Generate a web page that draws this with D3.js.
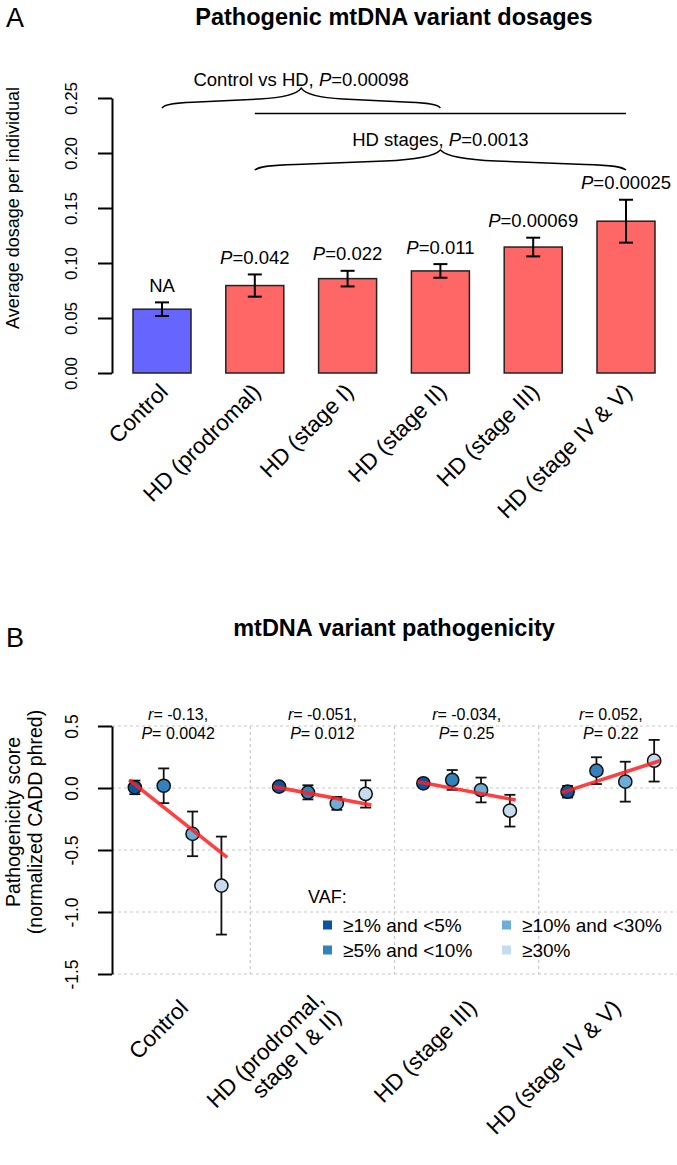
<!DOCTYPE html>
<html><head><meta charset="utf-8">
<script src="https://cdn.jsdelivr.net/npm/d3@7"></script>
<style>
body{margin:0;background:#fff;}
svg{display:block;font-family:"Liberation Sans",Arial,Helvetica,sans-serif;}
</style></head><body>
<svg id="chart" width="677" height="1165"></svg>
<script>
// ---------- Panel A data ----------
const barCategories = ["Control","HD (prodromal)","HD (stage I)","HD (stage II)","HD (stage III)","HD (stage IV & V)"];
const barValues = [0.058, 0.0795, 0.0858, 0.0928, 0.1145, 0.138];
const barErrors = [0.0062, 0.0101, 0.0071, 0.0062, 0.0085, 0.0195];
const barPLabels = ["NA","0.042","0.022","0.011","0.00069","0.00025"];
const barColors = ["#6666FF","#FF6666","#FF6666","#FF6666","#FF6666","#FF6666"];
const yTicksA = [0, 0.05, 0.10, 0.15, 0.20, 0.25];
const bracketTexts = ["Control vs HD, ", "0.00098", "HD stages, ", "0.0013"];
// bracket levels in data units: [end, peak, text baseline]
const bracket1Levels = [0.241, 0.259, 0.261];
const bracketLineLevel = 0.236;
const bracket2Levels = [0.1845, 0.2027, 0.2065];

// ---------- Panel B data ----------
const groupLabels = [["Control"],["HD (prodromal,","stage I & II)"],["HD (stage III)"],["HD (stage IV & V)"]];
const vafLevels = ["≥1% and <5%","≥5% and <10%","≥10% and <30%","≥30%"];
const vafColors = ["#0B55A0","#3182BD","#6BAED6","#C6DBEF"];
const scoreControl = [0.005, 0.018, -0.370, -0.787];
const scoreProdromal = [0.011, -0.035, -0.124, -0.048];
const scoreStageIII = [0.038, 0.065, -0.016, -0.183];
const scoreStageIV = [-0.030, 0.140, 0.051, 0.220];
const errControl = [0.055, 0.140, 0.180, 0.395];
const errProdromal = [0.020, 0.057, 0.052, 0.110];
const errStageIII = [0.025, 0.080, 0.100, 0.128];
const errStageIV = [0.047, 0.108, 0.161, 0.168];
// fitted trend line values at the two ends
const trendStart = [0.065, 0.011, 0.051, -0.037];
const trendEnd = [-0.559, -0.137, -0.097, 0.220];
const rLabels = ["-0.13","-0.051","-0.034","0.052"];
const pLabelsB = ["0.0042","0.012","0.25","0.22"];
const yTicksB = [0.5, 0.0, -0.5, -1.0, -1.5];

const scores = [scoreControl, scoreProdromal, scoreStageIII, scoreStageIV];
const errs = [errControl, errProdromal, errStageIII, errStageIV];

const svg = d3.select("#chart");

// ================= PANEL A =================
const yA = d3.scaleLinear().domain([0, 0.25]).range([373, 98]);
const xA = d3.scaleBand().domain(barCategories).range([133, 655]).paddingInner(0.375).paddingOuter(0);
const bw = xA.bandwidth();
const cx = c => xA(c) + bw / 2;

svg.append("text").attr("x", 6).attr("y", 27).attr("font-size", 27).text("A");
svg.append("text").attr("x", 394).attr("y", 25).attr("text-anchor", "middle")
  .attr("font-size", 23.5).attr("font-weight", "bold").text("Pathogenic mtDNA variant dosages");

const axA = svg.append("g").attr("transform", "translate(112,0)")
  .call(d3.axisLeft(yA).tickValues(yTicksA).tickSize(14).tickSizeOuter(0).tickFormat(d3.format(".2f")));
axA.select(".domain").attr("stroke", "#000").attr("stroke-width", 2);
axA.selectAll(".tick line").attr("stroke", "#000").attr("stroke-width", 2);
axA.selectAll(".tick text").attr("x", null).attr("dy", null)
  .attr("transform", "translate(-41,0) rotate(-90)").attr("text-anchor", "middle")
  .attr("dominant-baseline", "central").attr("font-size", 17).attr("fill", "#000")
  .attr("font-family", '"Liberation Sans",Arial,sans-serif');

svg.append("text").attr("transform", "translate(13,208) rotate(-90)").attr("text-anchor", "middle")
  .attr("dominant-baseline", "central").attr("font-size", 18).text("Average dosage per individual");

const barsA = svg.append("g");
barCategories.forEach((c, i) => {
  barsA.append("rect").attr("x", xA(c)).attr("y", yA(barValues[i])).attr("width", bw)
    .attr("height", yA(0) - yA(barValues[i])).attr("fill", barColors[i])
    .attr("stroke", "#222").attr("stroke-width", 1.5);
  const lo = yA(barValues[i] - barErrors[i]), hi = yA(barValues[i] + barErrors[i]);
  const g = barsA.append("g").attr("stroke", "#000").attr("stroke-width", 2);
  g.append("line").attr("x1", cx(c)).attr("x2", cx(c)).attr("y1", lo).attr("y2", hi);
  g.append("line").attr("x1", cx(c) - 7).attr("x2", cx(c) + 7).attr("y1", lo).attr("y2", lo);
  g.append("line").attr("x1", cx(c) - 7).attr("x2", cx(c) + 7).attr("y1", hi).attr("y2", hi);
  const t = barsA.append("text").attr("x", cx(c)).attr("y", hi - 10.5).attr("text-anchor", "middle").attr("font-size", 18.5);
  if (barPLabels[i] === "NA") t.text("NA");
  else { t.append("tspan").attr("font-style", "italic").text("P"); t.append("tspan").text("=" + barPLabels[i]); }
  svg.append("text").attr("transform", `translate(${cx(c) + 2},${388}) rotate(-45)`)
    .attr("text-anchor", "end").attr("dominant-baseline", "central").attr("font-size", 22.5).text(c);
});

function bracePath(x1, x2, yE, yP) {
  const xc = (x1 + x2) / 2, h = xc - x1, d = yE - yP;
  return `M${x1},${yE}` +
    `C${x1 + 0.02 * h},${yE - 0.16 * d} ${x1 + 0.07 * h},${yE - 0.24 * d} ${x1 + 0.22 * h},${yE - 0.28 * d}` +
    `L${xc - 0.3 * h},${yE - 0.45 * d}` +
    `C${xc - 0.12 * h},${yE - 0.52 * d} ${xc - 0.03 * h},${yE - 0.7 * d} ${xc},${yP}` +
    `C${xc + 0.03 * h},${yE - 0.7 * d} ${xc + 0.12 * h},${yE - 0.52 * d} ${xc + 0.3 * h},${yE - 0.45 * d}` +
    `L${x2 - 0.22 * h},${yE - 0.28 * d}` +
    `C${x2 - 0.07 * h},${yE - 0.24 * d} ${x2 - 0.02 * h},${yE - 0.16 * d} ${x2},${yE}`;
}
const hdFirst = cx(barCategories[1]), hdLast = cx(barCategories[barCategories.length - 1]);
const hdMid = (hdFirst + hdLast) / 2;
const brk = svg.append("g").attr("fill", "none").attr("stroke", "#000").attr("stroke-width", 1.5);
brk.append("path").attr("d", bracePath(cx(barCategories[0]), hdMid, yA(bracket1Levels[0]), yA(bracket1Levels[1])));
brk.append("line").attr("x1", hdFirst).attr("x2", hdLast).attr("y1", yA(bracketLineLevel)).attr("y2", yA(bracketLineLevel));
brk.append("path").attr("d", bracePath(hdFirst, hdLast, yA(bracket2Levels[0]), yA(bracket2Levels[1])));
const bt1 = svg.append("text").attr("x", (cx(barCategories[0]) + hdMid) / 2).attr("y", yA(bracket1Levels[2]))
  .attr("text-anchor", "middle").attr("font-size", 18.5);
bt1.append("tspan").text(bracketTexts[0]); bt1.append("tspan").attr("font-style", "italic").text("P");
bt1.append("tspan").text("=" + bracketTexts[1]);
const bt2 = svg.append("text").attr("x", hdMid).attr("y", yA(bracket2Levels[2]))
  .attr("text-anchor", "middle").attr("font-size", 18.5);
bt2.append("tspan").text(bracketTexts[2]); bt2.append("tspan").attr("font-style", "italic").text("P");
bt2.append("tspan").text("=" + bracketTexts[3]);

// ================= PANEL B =================
const yB = d3.scaleLinear().domain([-1.5, 0.5]).range([974, 726]);
const xB = d3.scaleLinear().domain([0, 4]).range([106, 683]);
const px = (g, i) => xB(g + 0.5 + (i - 1.5) * 0.2);

svg.append("text").attr("x", 6).attr("y", 647).attr("font-size", 27).text("B");
svg.append("text").attr("x", 394).attr("y", 636).attr("text-anchor", "middle")
  .attr("font-size", 23.5).attr("font-weight", "bold").text("mtDNA variant pathogenicity");

// grid
const grid = svg.append("g").attr("stroke", "#c8c8c8").attr("stroke-width", 1.2).attr("stroke-dasharray", "3,3");
yTicksB.forEach(v => grid.append("line").attr("x1", 112).attr("x2", 677).attr("y1", yB(v)).attr("y2", yB(v)));
[1, 2, 3].forEach(g => grid.append("line").attr("x1", xB(g)).attr("x2", xB(g)).attr("y1", yB(0.5)).attr("y2", yB(-1.5)));

const axB = svg.append("g").attr("transform", "translate(112,0)")
  .call(d3.axisLeft(yB).tickValues(yTicksB).tickSize(14).tickSizeOuter(0).tickFormat(d3.format(".1f")));
axB.select(".domain").attr("stroke", "#000").attr("stroke-width", 2);
axB.selectAll(".tick line").attr("stroke", "#000").attr("stroke-width", 2);
axB.selectAll(".tick text").attr("x", null).attr("dy", null).text(d => d3.format(".1f")(d).replace("−", "-"))
  .attr("transform", "translate(-40,0) rotate(-90)").attr("text-anchor", "middle")
  .attr("dominant-baseline", "central").attr("font-size", 17.5).attr("fill", "#000")
  .attr("font-family", '"Liberation Sans",Arial,sans-serif');

const ylabB = svg.append("text").attr("transform", "translate(13,822) rotate(-90)").attr("text-anchor", "middle").attr("font-size", 19.5);
ylabB.append("tspan").attr("x", 0).attr("y", 0).attr("dominant-baseline", "central").text("Pathogenicity score");
ylabB.append("tspan").attr("x", 0).attr("y", 22).attr("dominant-baseline", "central").text("(normalized CADD phred)");

const ptsB = svg.append("g");
scores.forEach((arr, g) => {
  arr.forEach((v, i) => {
    const x = px(g, i), lo = yB(v - errs[g][i]), hi = yB(v + errs[g][i]);
    const e = ptsB.append("g").attr("stroke", "#111").attr("stroke-width", 1.8);
    e.append("line").attr("x1", x).attr("x2", x).attr("y1", lo).attr("y2", hi);
    e.append("line").attr("x1", x - 5.5).attr("x2", x + 5.5).attr("y1", lo).attr("y2", lo);
    e.append("line").attr("x1", x - 5.5).attr("x2", x + 5.5).attr("y1", hi).attr("y2", hi);
  });
  arr.forEach((v, i) => {
    ptsB.append("circle").attr("cx", px(g, i)).attr("cy", yB(v)).attr("r", 6.6)
      .attr("fill", vafColors[i]).attr("stroke", "#111").attr("stroke-width", 1.5);
  });
  ptsB.append("line").attr("x1", px(g, -0.2)).attr("x2", px(g, 3.2))
    .attr("y1", yB(trendStart[g])).attr("y2", yB(trendEnd[g]))
    .attr("stroke", "rgba(255,30,30,0.85)").attr("stroke-width", 3.6);
  const gc = xB(g + 0.5);
  const t1 = svg.append("text").attr("x", gc).attr("y", 720).attr("text-anchor", "middle").attr("font-size", 16);
  t1.append("tspan").attr("font-style", "italic").text("r"); t1.append("tspan").text("= " + rLabels[g] + ",");
  const t2 = svg.append("text").attr("x", gc).attr("y", 738.5).attr("text-anchor", "middle").attr("font-size", 16);
  t2.append("tspan").attr("font-style", "italic").text("P"); t2.append("tspan").text("= " + pLabelsB[g]);
  const lab = svg.append("text").attr("transform", `translate(${gc + 6},${1004}) rotate(-45)`)
    .attr("text-anchor", "end").attr("font-size", 22.5);
  const n = groupLabels[g].length;
  groupLabels[g].forEach((s, k) => {
    lab.append("tspan").attr("x", 0).attr("y", (k - (n - 1) / 2) * 25).attr("dominant-baseline", "central").text(s);
  });
});

// legend
const leg = svg.append("g");
leg.append("text").attr("x", 308).attr("y", 903).attr("font-size", 18).text("VAF:");
vafLevels.forEach((s, i) => {
  const col = Math.floor(i / 2), row = i % 2;
  const lx = [323, 502][col], ly = 925 + row * 25;
  leg.append("rect").attr("x", lx).attr("y", ly - 4.5).attr("width", 9).attr("height", 9).attr("fill", vafColors[i]);
  leg.append("text").attr("x", lx + 20).attr("y", ly).attr("dominant-baseline", "central").attr("font-size", 19).text(s);
});
</script>
</body></html>
